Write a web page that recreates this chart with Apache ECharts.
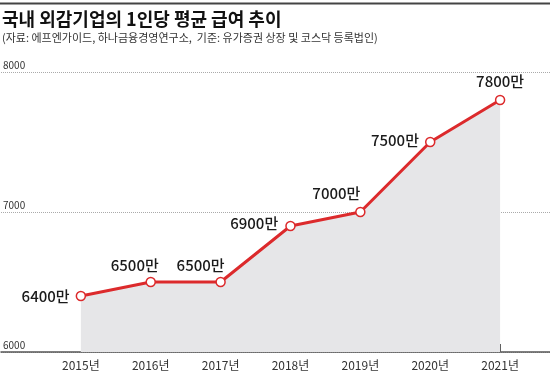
<html>

<head>
    <script src="https://cdn.jsdelivr.net/npm/echarts@6.0.0/dist/echarts.min.js"></script>

    <style>
        body {
            margin: 0
        }
        #chart {
            width: 550px;
            height: 377px;
        }
    </style>
</head>

<body>
    <div id="chart"></div>

    <script>
        const years = [2015, 2016, 2017, 2018, 2019, 2020, 2021];
        const salaries = [6400, 6500, 6500, 6900, 7000, 7500, 7800];
        const yTicks = [6000, 7000, 8000];

        // where each value label sits around its point
        const labelPlace = [
            { position: 'left', distance: 6 },
            { position: 'top', distance: 4, offset: [-16, 0] },
            { position: 'top', distance: 4, offset: [-20, 0] },
            { position: 'left', distance: 7, offset: [0, -3] },
            { position: 'top', distance: 6, offset: [-24, 0] },
            { position: 'left', distance: 6, offset: [0, -2] },
            { position: 'top', distance: 6 }
        ];

        const font = '"Noto Sans CJK KR", "Noto Sans", sans-serif';
        const red = '#dc2a2c';

        const chartDom = document.getElementById('chart');
        const myChart = echarts.init(chartDom);

        const option = {
            animation: false,
            textStyle: { fontFamily: font },
            title: {
                text: '국내 외감기업의 1인당 평균 급여 추이',
                subtext: '(자료: 에프엔가이드, 하나금융경영연구소,  기준: 유가증권 상장 및 코스닥 등록법인)',
                left: 2,
                top: 10,
                padding: 0,
                itemGap: 4,
                textStyle: { fontFamily: font, fontSize: 18, fontWeight: 'bold', color: '#111' },
                subtextStyle: { fontFamily: font, fontSize: 11, color: '#333' }
            },
            graphic: [{
                type: 'line',
                shape: { x1: 0, y1: 3.5, x2: 550, y2: 3.5 },
                style: { stroke: '#444', lineWidth: 2 }
            }],
            grid: { left: 0, right: 0, top: 72, bottom: 25 },
            xAxis: {
                type: 'value',
                min: 2015 - 80 / 70,
                max: 2021 + 50 / 70,
                axisLine: { lineStyle: { color: '#555', width: 1.5 } },
                axisTick: { show: true, inside: true, length: 8, customValues: years, lineStyle: { color: '#555', width: 1 } },
                axisLabel: {
                    customValues: years,
                    formatter: (v) => v + '년',
                    fontSize: 12,
                    color: '#333',
                    margin: 7
                },
                splitLine: { show: false }
            },
            yAxis: {
                type: 'value',
                min: 6000,
                max: 8000,
                interval: 1000,
                axisLine: { show: false },
                axisTick: { show: false },
                axisLabel: {
                    inside: true,
                    margin: 2,
                    fontSize: 10,
                    color: '#333',
                    verticalAlign: 'bottom',
                    padding: [0, 0, 2, 0],
                    customValues: yTicks,
                    formatter: (v) => String(v)
                },
                splitLine: { lineStyle: { color: '#aaa', type: 'dotted', width: 1 } }
            },
            series: [{
                type: 'line',
                data: years.map((y, i) => ({
                    value: [y, salaries[i]],
                    label: labelPlace[i]
                })),
                lineStyle: { color: red, width: 3 },
                symbol: 'circle',
                symbolSize: 9,
                showAllSymbol: true,
                itemStyle: { color: '#fff', borderColor: red, borderWidth: 1.5 },
                areaStyle: { color: '#e6e6e8', opacity: 1, origin: 'start' },
                label: {
                    show: true,
                    formatter: (p) => p.value[1] + '만',
                    fontSize: 15,
                    fontWeight: 500,
                    color: '#1a1a1a'
                },
                z: 3
            }]
        };

        myChart.setOption(option);
    </script>
</body>

</html>
